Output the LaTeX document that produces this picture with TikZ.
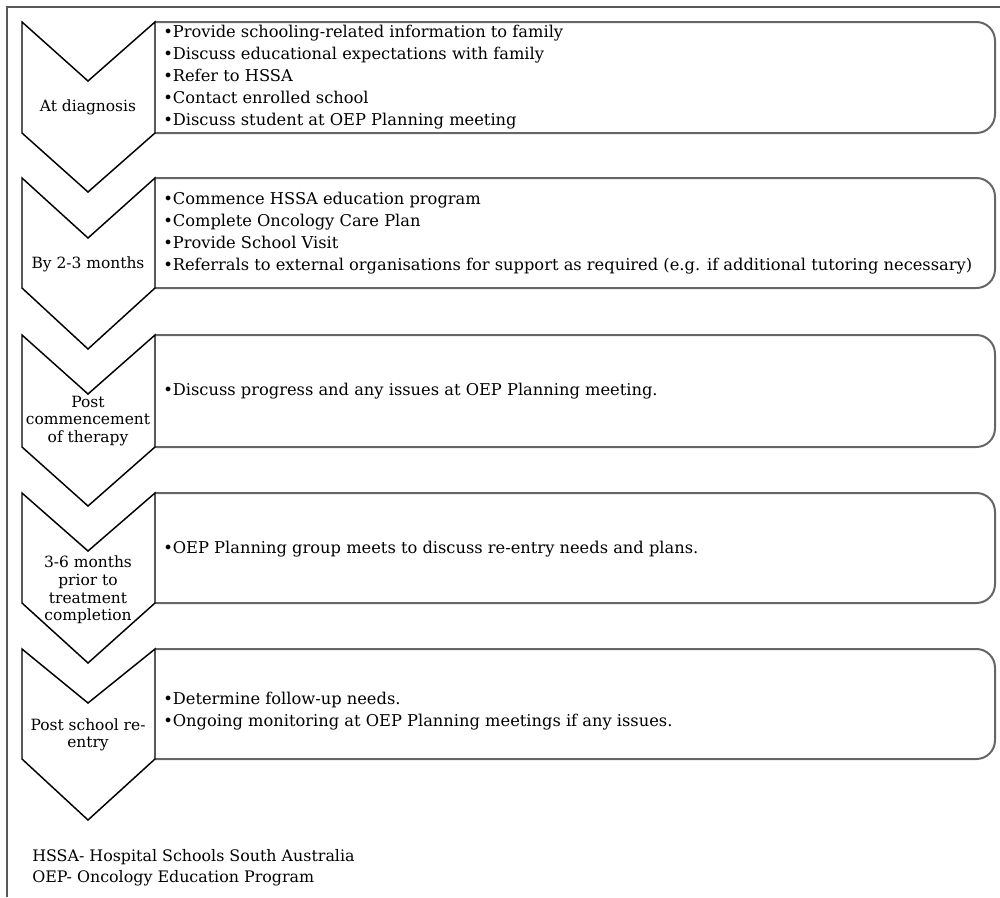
\documentclass[tikz,border=0pt]{standalone}
\usepackage{fontspec}
\setmainfont{DejaVu Serif}
\usepackage{tikz}
\usetikzlibrary{calc}

\begin{document}
\begin{tikzpicture}[x=0.75pt,y=-0.75pt,
        chev/.style={draw=black,fill=white,line width=1.1pt,line join=miter},
        listbox/.style={draw=black!60,line width=1.5pt,rounded corners=14},
        frameline/.style={draw=black!65,line width=1.5pt},
        stagetext/.style={align=center,inner sep=0pt,font=\fontsize{11.6}{13.2}\selectfont},
        listtext/.style={anchor=west,align=left,inner sep=0pt,font=\fontsize{12.2}{16.5}\selectfont}]
        \useasboundingbox (0,0) rectangle (1000,897);
        \draw[frameline] (7,897) -- (7,7) -- (1000,7);

        % at diagnosis
        \draw[listbox] (155,22) -- (995,22) -- (995,133) -- (155,133);
        \draw[chev] (22,22) -- (88,81) -- (155,22) -- (155,133) -- (88,192) -- (22,133) -- cycle;
        \node[stagetext] (diag) at (88,107) {At diagnosis};
        \node[listtext] (diaglist) at (163,77) {\textbullet Provide schooling-related information to family\\
                \textbullet Discuss educational expectations with family\\
                \textbullet Refer to HSSA\\
                \textbullet Contact enrolled school\\
                \textbullet Discuss student at OEP Planning meeting};

        % by 2-3 months
        \draw[listbox] (155,178) -- (995,178) -- (995,288) -- (155,288);
        \draw[chev] (22,178) -- (88,238) -- (155,178) -- (155,288) -- (88,349) -- (22,288) -- cycle;
        \node[stagetext] (early) at (88,264) {By 2-3 months};
        \node[listtext] (earlylist) at (163,233) {\textbullet Commence HSSA education program\\
                \textbullet Complete Oncology Care Plan\\
                \textbullet Provide School Visit\\
                \textbullet Referrals to external organisations for support as required (e.g. if additional tutoring necessary)};

        % post commencement
        \draw[listbox] (155,335) -- (995,335) -- (995,447) -- (155,447);
        \draw[chev] (22,335) -- (88,394) -- (155,335) -- (155,447) -- (88,506) -- (22,447) -- cycle;
        \node[stagetext] (therapy) at (88,421) {Post\\commencement\\of therapy};
        \node[listtext] (therapylist) at (163,391) {\textbullet Discuss progress and any issues at OEP Planning meeting.};

        % prior to completion
        \draw[listbox] (155,493) -- (995,493) -- (995,603) -- (155,603);
        \draw[chev] (22,493) -- (88,551) -- (155,493) -- (155,603) -- (88,663) -- (22,603) -- cycle;
        \node[stagetext] (prior) at (88,590) {3-6 months\\prior to\\treatment\\completion};
        \node[listtext] (priorlist) at (163,549) {\textbullet OEP Planning group meets to discuss re-entry needs and plans.};

        % re-entry
        \draw[listbox] (155,649) -- (995,649) -- (995,759) -- (155,759);
        \draw[chev] (22,649) -- (88,703) -- (155,649) -- (155,759) -- (88,820) -- (22,759) -- cycle;
        \node[stagetext] (reentry) at (88,735) {Post school re-\\entry};
        \node[listtext] (reentrylist) at (163,711) {\textbullet Determine follow-up needs.\\
                \textbullet Ongoing monitoring at OEP Planning meetings if any issues.};

        \node[anchor=west,align=left,inner sep=0pt,font=\fontsize{11.9}{15.8}\selectfont] (abbrev) at (32,868)
                {HSSA- Hospital Schools South Australia\\OEP- Oncology Education Program};
\end{tikzpicture}
\end{document}
